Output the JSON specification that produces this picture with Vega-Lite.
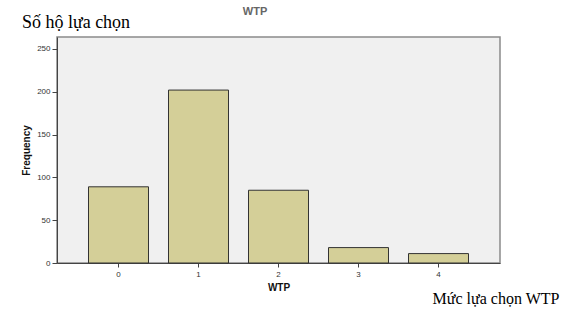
{
  "$schema": "https://vega.github.io/schema/vega-lite/v6.json",
  "autosize": {"type": "none"},
  "width": 443,
  "height": 226,
  "padding": {"left": 57, "top": 37, "right": 73, "bottom": 52},
  "background": "white",
  "config": {
    "view": {"fill": "#f0f0f0", "stroke": "#8a8a8a", "strokeWidth": 1.5},
    "axis": {
      "labelFont": "Liberation Sans",
      "labelFontSize": 8,
      "labelColor": "#333333",
      "titleFont": "Liberation Sans",
      "titleFontSize": 10,
      "titleFontWeight": "bold",
      "titleColor": "#111111",
      "domainColor": "#444444",
      "tickColor": "#444444",
      "grid": false
    }
  },
  "datasets": {
    "notes": [
      {"label": "WTP", "WTP": "1", "pos": 293, "kind": "title"},
      {"label": "Số hộ lựa chọn", "WTP": "0", "pos": 280, "kind": "ylab"},
      {"label": "Mức lựa chọn WTP", "WTP": "4", "pos": -41.5, "kind": "xlab"}
    ]
  },
  "layer": [
    {
      "data": {
        "values": [
          {"WTP": "0", "Frequency": 89},
          {"WTP": "1", "Frequency": 202},
          {"WTP": "2", "Frequency": 85},
          {"WTP": "3", "Frequency": 18},
          {"WTP": "4", "Frequency": 11}
        ]
      },
      "mark": {"type": "bar", "fill": "#d4cf98", "stroke": "#333333", "strokeWidth": 1},
      "encoding": {
        "x": {
          "field": "WTP",
          "type": "ordinal",
          "scale": {"paddingInner": 0.25, "paddingOuter": 0.39375},
          "axis": {"labelAngle": 0, "tickSize": 4, "labelPadding": 3, "title": "WTP", "titlePadding": 4}
        },
        "y": {
          "field": "Frequency",
          "type": "quantitative",
          "scale": {"domain": [0, 264], "nice": false},
          "axis": {"values": [0, 50, 100, 150, 200, 250], "tickSize": 5, "labelPadding": 2, "title": "Frequency", "titlePadding": 5}
        }
      }
    },
    {
      "data": {"name": "notes"},
      "transform": [{"filter": "datum.kind == 'title'"}],
      "mark": {"type": "text", "font": "Liberation Sans", "fontSize": 11, "fontWeight": "bold", "color": "#666666", "align": "center", "baseline": "middle", "clip": false, "dx": 56.5},
      "encoding": {
        "x": {"field": "WTP", "type": "ordinal"},
        "y": {"field": "pos", "type": "quantitative"},
        "text": {"field": "label"}
      }
    },
    {
      "data": {"name": "notes"},
      "transform": [{"filter": "datum.kind == 'ylab'"}],
      "mark": {"type": "text", "font": "Liberation Serif", "fontSize": 18, "color": "black", "align": "center", "baseline": "middle", "clip": false, "dx": -42.5},
      "encoding": {
        "x": {"field": "WTP", "type": "ordinal"},
        "y": {"field": "pos", "type": "quantitative"},
        "text": {"field": "label"}
      }
    },
    {
      "data": {"name": "notes"},
      "transform": [{"filter": "datum.kind == 'xlab'"}],
      "mark": {"type": "text", "font": "Liberation Serif", "fontSize": 16, "color": "black", "align": "center", "baseline": "middle", "clip": false, "dx": 57.5},
      "encoding": {
        "x": {"field": "WTP", "type": "ordinal"},
        "y": {"field": "pos", "type": "quantitative"},
        "text": {"field": "label"}
      }
    }
  ]
}
